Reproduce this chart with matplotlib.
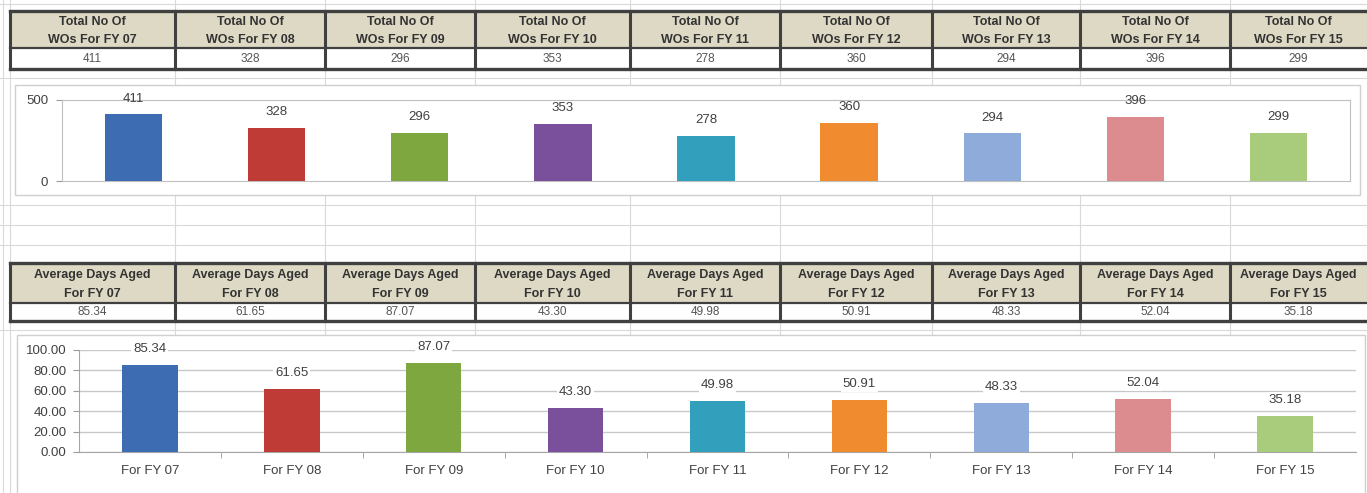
import matplotlib
matplotlib.use("Agg")
import matplotlib.pyplot as plt
from matplotlib.patches import Rectangle
from matplotlib.ticker import FixedLocator, FormatStrFormatter

plt.rcParams['font.family'] = ['Liberation Sans', 'DejaVu Sans']

# data
fy = ['07', '08', '09', '10', '11', '12', '13', '14', '15']
wo_counts = [411, 328, 296, 353, 278, 360, 294, 396, 299]
avg_days = [85.34, 61.65, 87.07, 43.30, 49.98, 50.91, 48.33, 52.04, 35.18]
bar_colors = ['#3d6cb3', '#bf3b36', '#7fa73f', '#7a4f9b', '#32a0bd',
              '#f08b30', '#8eabda', '#dc8b8e', '#a9cc7c']

W, H = 1367, 493
fig = plt.figure(figsize=(W / 100, H / 100), dpi=100)
fig.patch.set_facecolor('white')


def px_axes(left, top, right, bottom, **kw):
    return fig.add_axes([left / W, 1 - bottom / H, (right - left) / W, (bottom - top) / H], **kw)


# spreadsheet background
bg = px_axes(0, 0, W, H)
bg.set_xlim(0, W)
bg.set_ylim(H, 0)
bg.axis('off')

col_edges = [10, 175, 325, 475, 630, 780, 932, 1080, 1230, 1380]
grid_c = '#d9d9d9'
for x in col_edges + [3]:
    bg.plot([x, x], [0, H], color=grid_c, lw=0.8, zorder=0)
for y in [4, 78, 205, 225, 245, 330]:
    bg.plot([0, W], [y, y], color=grid_c, lw=0.8, zorder=0)


def draw_table(top, mid, bottom, line1, line2, values):
    for i in range(len(fy)):
        x0, x1 = col_edges[i], col_edges[i + 1]
        bg.add_patch(Rectangle((x0, top), x1 - x0, mid - top, facecolor='#ded9c4',
                               edgecolor='none', zorder=2))
        bg.add_patch(Rectangle((x0, mid), x1 - x0, bottom - mid, facecolor='white',
                               edgecolor='none', zorder=2))
        xc = (x0 + min(x1, W)) / 2 if x1 > W else (x0 + x1) / 2
        h1 = top + (mid - top) * 0.3
        h2 = top + (mid - top) * 0.78
        bg.text(xc, h1, line1, ha='center', va='center', fontsize=9, fontweight='bold',
                color='#333333', zorder=4)
        bg.text(xc, h2, line2 % fy[i], ha='center', va='center', fontsize=9,
                fontweight='bold', color='#333333', zorder=4)
        bg.text(xc, (mid + bottom) / 2, values[i], ha='center', va='center', fontsize=8.5,
                color='#555555', zorder=4)
        bg.plot([x0, x0], [top, bottom], color='#404040', lw=2.2, zorder=3)
    bg.plot([col_edges[0], W], [top, top], color='#404040', lw=2.4, zorder=3)
    bg.plot([col_edges[0], W], [mid, mid], color='#404040', lw=1.6, zorder=3)
    bg.plot([col_edges[0], W], [bottom, bottom], color='#404040', lw=2.4, zorder=3)


draw_table(11, 48, 69, 'Total No Of', 'WOs For FY %s', ['%d' % v for v in wo_counts])
draw_table(263, 303, 321, 'Average Days Aged', 'For FY %s', ['%.2f' % v for v in avg_days])

# chart frames
bg.add_patch(Rectangle((15, 85), 1345, 110, facecolor='white', edgecolor='#cfcfcf',
                       lw=1.0, zorder=5))
bg.add_patch(Rectangle((17, 335), 1348, 170, facecolor='white', edgecolor='#cfcfcf',
                       lw=1.0, zorder=5))

x = list(range(len(fy)))
label_c = '#404040'

# top chart: total number of WOs
ax1 = px_axes(62, 100, 1350, 181)
ax1.bar(x, wo_counts, width=0.4, color=bar_colors, zorder=3)
ax1.set_xlim(-0.5, len(fy) - 0.5)
ax1.set_ylim(0, 500)
ax1.set_yticks([0, 500])
ax1.set_xticks([])
for s in ax1.spines.values():
    s.set_color('#bfbfbf')
ax1.tick_params(axis='y', length=4, color='#9a9a9a', labelsize=9.5, labelcolor=label_c, pad=6)
for xi, v in zip(x, wo_counts):
    ax1.annotate('%d' % v, (xi, v), xytext=(0, 7), textcoords='offset points',
                 ha='center', va='bottom', fontsize=9.5, color=label_c)

# bottom chart: average days aged
ax2 = px_axes(79, 350, 1356, 452)
ax2.bar(x, avg_days, width=0.39, color=bar_colors, zorder=3)
ax2.set_xlim(-0.5, len(fy) - 0.5)
ax2.set_ylim(0, 100)
ax2.set_yticks(range(0, 101, 20))
ax2.yaxis.set_major_formatter(FormatStrFormatter('%.2f'))
ax2.grid(axis='y', color='#c8c8c8', lw=1.0, zorder=0)
ax2.set_xticks(x)
ax2.set_xticklabels(['For FY %s' % f for f in fy])
ax2.xaxis.set_minor_locator(FixedLocator([i + 0.5 for i in range(len(fy) - 1)]))
ax2.tick_params(axis='x', which='major', length=0, labelsize=9.5, labelcolor=label_c, pad=9)
ax2.tick_params(axis='x', which='minor', length=4, color='#9a9a9a')
ax2.tick_params(axis='y', length=4, color='#9a9a9a', labelsize=9.5, labelcolor=label_c, pad=5)
for side in ['top', 'right']:
    ax2.spines[side].set_visible(False)
ax2.spines['left'].set_color('#a6a6a6')
ax2.spines['bottom'].set_color('#a6a6a6')
for xi, v in zip(x, avg_days):
    ax2.annotate('%.2f' % v, (xi, v), xytext=(0, 7), textcoords='offset points',
                 ha='center', va='bottom', fontsize=9.5, color=label_c,
                 bbox=dict(boxstyle='square,pad=0.15', fc='white', ec='none'))

for ax in (ax1, ax2):
    ax.set_zorder(6)
    ax.set_facecolor('white')

fig.savefig('out.png', dpi=100)
